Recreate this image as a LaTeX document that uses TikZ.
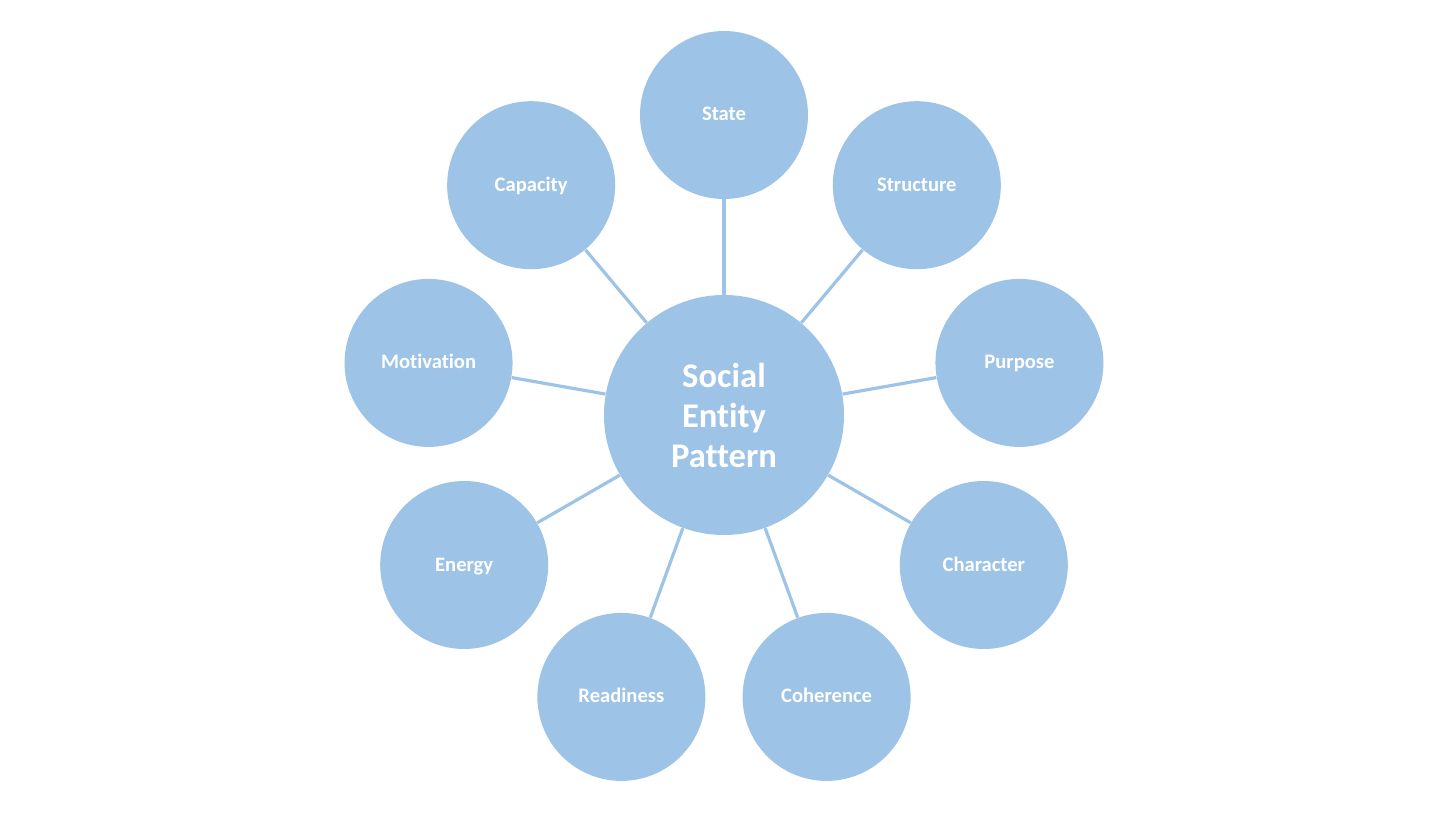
\documentclass[tikz,border=0pt]{standalone}
\usepackage{fontspec}
\setmainfont{Carlito}[RawFeature={-liga;-dlig}]
\usepackage{tikz}

\definecolor{entityblue}{HTML}{9DC3E6}

\tikzset{
  hub/.style={circle, fill=entityblue, text=white, inner sep=0pt,
    minimum size=120pt, align=center,
    font=\bfseries\fontsize{17.3}{20}\selectfont},
  facet/.style={circle, fill=entityblue, text=white, inner sep=0pt,
    minimum size=84pt, text height=0.8em, text depth=0.2em,
    font=\bfseries\fontsize{10.3}{12}\selectfont},
  spoke/.style={draw=entityblue, line width=1.6pt}
}

\begin{document}
\begin{tikzpicture}[x=0.5pt, y=0.5pt]
		\useasboundingbox (-724, -404) rectangle (732, 415);

		\node[hub] (hub) at (0, 0) {Social\\Entity\\Pattern};

		% satellites every 40 degrees round the hub
		\foreach \ang/\name/\txt in {90/state/State, 50/structure/Structure,
			10/purpose/Purpose, -30/character/Character, -70/coherence/Coherence,
			-110/readiness/Readiness, -150/energy/Energy, 170/motivation/Motivation,
			130/capacity/Capacity}
		{
			\node[facet] (\name) at (\ang:300) {\txt};
			\draw[spoke] (hub) -- (\name);
		}
	\end{tikzpicture}
\end{document}
